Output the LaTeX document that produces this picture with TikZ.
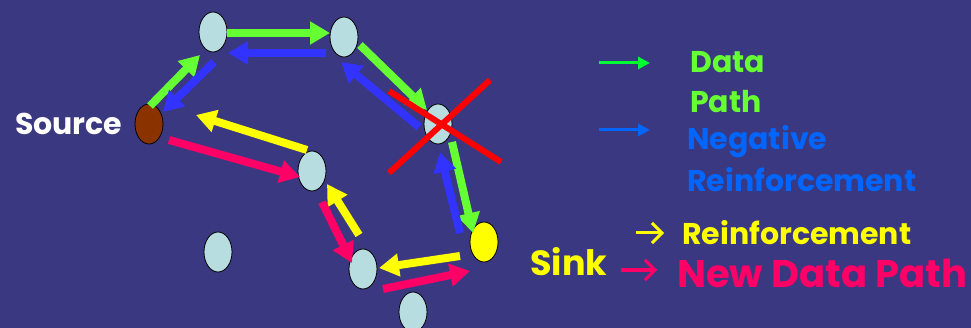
\documentclass[tikz,border=0pt]{standalone}
\usepackage{fontspec}
\setmainfont{Poppins}
\usetikzlibrary{arrows.meta,calc,shapes.geometric}

\definecolor{bg}{RGB}{58,56,128}
\definecolor{nodefill}{RGB}{184,221,224}
\definecolor{srcfill}{RGB}{139,51,0}
\definecolor{datagreen}{RGB}{102,255,51}
\definecolor{neg}{RGB}{51,51,255}
\definecolor{reinf}{RGB}{255,255,0}
\definecolor{newpath}{RGB}{255,0,102}
\definecolor{legblue}{RGB}{0,102,255}
\definecolor{leggreen}{RGB}{0,255,51}

\tikzset{
  sensor/.style={ellipse, draw=black, line width=0.8pt, fill=nodefill,
    minimum width=28pt, minimum height=40pt, inner sep=0pt},
  flow/.style={line width=8pt, -{Triangle[length=20pt,width=22pt]}},
  legarrow/.style={line width=3pt, -{Triangle[length=12pt,width=12pt]}},
  chevron/.style={line width=3pt, -{Straight Barb[length=10pt,width=20pt,line width=3pt]}},
  label/.style={anchor=base west, inner sep=0pt},
  big/.style={font=\bfseries\fontsize{30}{30}\selectfont},
}

\begin{document}
\begin{tikzpicture}[x=1pt,y=-1pt]
  \fill[bg] (0,0) rectangle (971,328);
  \useasboundingbox (0,0) rectangle (971,328);

  % sensor nodes
  \node[sensor, fill=srcfill] (src) at (149,124) {};
  \node[sensor] (n1) at (213,32) {};
  \node[sensor] (n2) at (344,37) {};
  \node[sensor] (n3) at (438,124) {};
  \node[sensor] (n4) at (312,171) {};
  \node[sensor] (n5) at (218,252) {};
  \node[sensor] (n6) at (363,269) {};
  \node[sensor] (n7) at (413,312) {};
  \node[sensor, fill=reinf] (sink) at (484,242) {};

  % original data path
  \draw[flow, datagreen] ([shift={(1,-18)}]src.center) -- ([shift={(-13,23)}]n1.center);
  \draw[flow, datagreen] ([shift={(14,1)}]n1.center) -- ([shift={(-14,-4)}]n2.center);
  \draw[flow, datagreen] ([shift={(16,8)}]n2.center) -- ([shift={(-11,-14)}]n3.center);
  \draw[flow, datagreen] ([shift={(14,18)}]n3.center) -- ([shift={(-11,-9)}]sink.center);

  % negative reinforcement
  \draw[flow, neg] ([shift={(-18,16)}]n2.center) -- ([shift={(15,21)}]n1.center);
  \draw[flow, neg] ([shift={(1,30)}]n1.center) -- ([shift={(14,-12)}]src.center);
  \draw[flow, neg] ([shift={(-19,3)}]n3.center) -- ([shift={(-3,25)}]n2.center);
  \draw[flow, neg] ([shift={(-24,-9)}]sink.center) -- ([shift={(2,28)}]n3.center);

  % reinforcement
  \draw[flow, reinf] ([shift={(-24,14)}]sink.center) -- ([shift={(16,-1)}]n6.center);
  \draw[flow, reinf] ([shift={(-4,-34)}]n6.center) -- ([shift={(15,13)}]n4.center);
  \draw[flow, reinf] ([shift={(-5,-21)}]n4.center) -- ([shift={(47,-9)}]src.center);

  % new data path
  \draw[flow, newpath] ([shift={(20,16)}]src.center) -- ([shift={(-12,6)}]n4.center);
  \draw[flow, newpath] ([shift={(10,31)}]n4.center) -- ([shift={(-11,-6)}]n6.center);
  \draw[flow, newpath] ([shift={(20,20)}]n6.center) -- ([shift={(-14,29)}]sink.center);

  % failed node
  \draw[red, line width=6pt] ([shift={(-49,49)}]n3.center) -- ([shift={(52,-44)}]n3.center);
  \draw[red, line width=6pt] ([shift={(-49,-33)}]n3.center) -- ([shift={(63,38)}]n3.center);

  % labels
  \node[label, big, white] (tsrc) at (15,135) {Source};
  \node[label, reinf, font=\bfseries\fontsize{35}{35}\selectfont] (tsink) at (530,276) {Sink};

  % legend
  \coordinate (g0) at (599,63);  \coordinate (g1) at (650,63);
  \coordinate (b0) at (599,130); \coordinate (b1) at (650,130);
  \coordinate (y0) at (636,233); \coordinate (y1) at (664,233);
  \coordinate (p0) at (621,270); \coordinate (p1) at (657,270);
  \draw[legarrow, leggreen] (g0) -- (g1);
  \draw[legarrow, legblue] (b0) -- (b1);
  \draw[chevron, reinf] (y0) -- (y1);
  \draw[chevron, newpath, line width=3.5pt] (p0) -- (p1);

  \node[label, big, datagreen] (tdata) at (690,73) {Data};
  \node[label, big, datagreen] (tpath) at (690,113) {Path};
  \node[label, big, legblue] (tneg) at (687,150) {Negative};
  \node[label, big, legblue] (treinf) at (687,192) {Reinforcement};
  \node[label, big, reinf] (treinf2) at (682,245) {Reinforcement};
  \node[label, newpath, font=\bfseries\fontsize{38.5}{38.5}\selectfont] (tnew) at (677,288) {New Data Path};
\end{tikzpicture}
\end{document}
